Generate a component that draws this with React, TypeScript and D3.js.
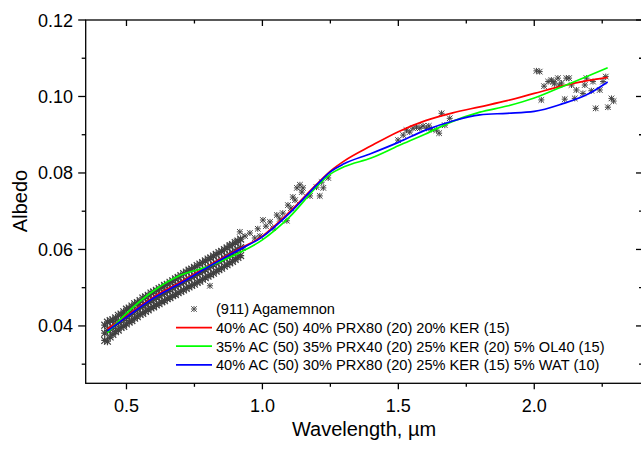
import React, { useEffect, useRef } from 'react';
import * as d3 from 'd3';

// model curves (wavelength in µm, albedo)
const curveWave = [0.43, 0.5, 0.6, 0.7, 0.8, 0.9, 1.0, 1.1, 1.2, 1.25, 1.3, 1.4, 1.5, 1.6, 1.7, 1.8, 1.9, 2.0, 2.1, 2.2, 2.27];
const redAlbedo = [0.0392, 0.0426, 0.0476, 0.0515, 0.0557, 0.0596, 0.0635, 0.0698, 0.0771, 0.0805, 0.0831, 0.0871, 0.0908, 0.0937, 0.0957, 0.0973, 0.0989, 0.1008, 0.1027, 0.1042, 0.1050];
const greenAlbedo = [0.0382, 0.0433, 0.0492, 0.0533, 0.0555, 0.0586, 0.0625, 0.0685, 0.0764, 0.0797, 0.0816, 0.0839, 0.0871, 0.0902, 0.0935, 0.0959, 0.0975, 0.0996, 0.1025, 0.1054, 0.1075];
const blueAlbedo = [0.0387, 0.0423, 0.0473, 0.0512, 0.0554, 0.0594, 0.0633, 0.0695, 0.0769, 0.0803, 0.0824, 0.0851, 0.0880, 0.0912, 0.0936, 0.0952, 0.0956, 0.0961, 0.0980, 0.1007, 0.1038];

// (911) Agamemnon, visible part: dense band read as low / mid / high edge per wavelength
const visWave = [0.42, 0.43, 0.44, 0.45, 0.46, 0.47, 0.48, 0.49, 0.50, 0.51, 0.52, 0.53, 0.54, 0.55, 0.56, 0.57, 0.58, 0.59, 0.60, 0.61, 0.62, 0.63, 0.64, 0.65, 0.66, 0.67, 0.68, 0.69, 0.70, 0.71, 0.72, 0.73, 0.74, 0.75, 0.76, 0.77, 0.78, 0.79, 0.80, 0.81, 0.82, 0.83, 0.84, 0.85, 0.86, 0.87, 0.88, 0.89, 0.90, 0.91, 0.92];
const visLow = [0.0362, 0.0360, 0.0371, 0.0378, 0.0385, 0.0389, 0.0396, 0.0399, 0.0405, 0.0410, 0.0414, 0.0420, 0.0424, 0.0430, 0.0433, 0.0438, 0.0442, 0.0447, 0.0450, 0.0455, 0.0458, 0.0463, 0.0466, 0.0471, 0.0474, 0.0479, 0.0482, 0.0487, 0.0490, 0.0494, 0.0498, 0.0502, 0.0506, 0.0509, 0.0514, 0.0517, 0.0522, 0.0526, 0.0530, 0.0534, 0.0538, 0.0543, 0.0547, 0.0551, 0.0556, 0.0560, 0.0565, 0.0569, 0.0574, 0.0579, 0.0584];
const visMid = [0.0381, 0.0388, 0.0392, 0.0398, 0.0404, 0.0409, 0.0413, 0.0419, 0.0424, 0.0428, 0.0434, 0.0438, 0.0443, 0.0449, 0.0452, 0.0457, 0.0462, 0.0465, 0.0470, 0.0474, 0.0478, 0.0483, 0.0486, 0.0491, 0.0494, 0.0499, 0.0503, 0.0507, 0.0512, 0.0515, 0.0520, 0.0523, 0.0528, 0.0531, 0.0536, 0.0539, 0.0544, 0.0547, 0.0552, 0.0556, 0.0560, 0.0564, 0.0569, 0.0573, 0.0577, 0.0582, 0.0586, 0.0591, 0.0596, 0.0600, 0.0605];
const visHigh = [0.0402, 0.0410, 0.0414, 0.0416, 0.0421, 0.0428, 0.0431, 0.0437, 0.0444, 0.0447, 0.0452, 0.0458, 0.0461, 0.0466, 0.0473, 0.0476, 0.0480, 0.0486, 0.0489, 0.0493, 0.0498, 0.0501, 0.0506, 0.0509, 0.0514, 0.0518, 0.0523, 0.0527, 0.0532, 0.0537, 0.0541, 0.0546, 0.0549, 0.0553, 0.0558, 0.0562, 0.0566, 0.0570, 0.0575, 0.0578, 0.0583, 0.0587, 0.0592, 0.0595, 0.0600, 0.0604, 0.0609, 0.0613, 0.0618, 0.0622, 0.0627];

// (911) Agamemnon, sparse points
const nirWave = [0.807, 0.881, 0.905, 0.917, 0.928, 0.936, 0.954, 0.972, 0.983, 0.991, 1.002, 1.013, 1.028, 1.039, 1.053, 1.064, 1.075, 1.090, 1.094, 1.105, 1.112, 1.120, 1.127, 1.138, 1.145, 1.149, 1.175, 1.199, 1.211, 1.218, 1.224, 1.242,
  1.499, 1.518, 1.530, 1.542, 1.554, 1.567, 1.579, 1.591, 1.604, 1.612, 1.622, 1.640, 1.650, 1.659, 1.671, 1.689,
  2.008, 2.020, 2.026, 2.036, 2.051, 2.063, 2.069, 2.074, 2.087, 2.092, 2.100, 2.112, 2.118, 2.128, 2.137, 2.149, 2.155, 2.179, 2.186, 2.192, 2.210, 2.216, 2.226, 2.241, 2.253, 2.263, 2.271, 2.284, 2.292];
const nirAlbedo = [0.0505, 0.0612, 0.0620, 0.0646, 0.0604, 0.0635, 0.0643, 0.0630, 0.0654, 0.0635, 0.0677, 0.0661, 0.0672, 0.0656, 0.0690, 0.0680, 0.0695, 0.0675, 0.0716, 0.0708, 0.0737, 0.0729, 0.0761, 0.0769, 0.0750, 0.0761, 0.0740, 0.0763, 0.0740, 0.0776, 0.0761, 0.0787,
  0.0886, 0.0899, 0.0912, 0.0907, 0.0917, 0.0920, 0.0917, 0.0923, 0.0917, 0.0923, 0.0914, 0.0912, 0.0904, 0.0956, 0.0925, 0.0943,
  0.1067, 0.1065, 0.0991, 0.1027, 0.1039, 0.1043, 0.1039, 0.1033, 0.1048, 0.1030, 0.1035, 0.0993, 0.1048, 0.1048, 0.1030, 0.0995, 0.1017, 0.1008, 0.1030, 0.1048, 0.1015, 0.1039, 0.0969, 0.1017, 0.1039, 0.1052, 0.0972, 0.0995, 0.0988];

const xMajor = [0.5, 1.0, 1.5, 2.0];
const xMinor = [0.75, 1.25, 1.75, 2.25];
const yMajor = [0.04, 0.06, 0.08, 0.10, 0.12];
const yMinor = [0.03, 0.05, 0.07, 0.09, 0.11];

const legendLabels = [
  '(911) Agamemnon',
  '40% AC (50) 40% PRX80 (20) 20% KER (15)',
  '35% AC (50) 35% PRX40 (20) 25% KER (20) 5% OL40 (15)',
  '40% AC (50) 30% PRX80 (20) 25% KER (15) 5% WAT (10)',
];
const lineColors = ['#ff0000', '#00ff00', '#0000ff'];

const FONT = "'Liberation Sans', Arial, sans-serif";
const STAR = 'M-2.8,-2.8L2.8,2.8M-2.8,2.8L2.8,-2.8M0,-3L0,3M-3,0L3,0';
const BIG_STAR = 'M-3.4,-3.4L3.4,3.4M-3.4,3.4L3.4,-3.4M0,-4L0,4M-3.5,0L3.5,0';

function AlbedoChart() {
  const svgRef = useRef<SVGSVGElement>(null);

  useEffect(() => {
    const svg = d3.select(svgRef.current);
    svg.selectAll('*').remove();

    const W = 641, H = 449;
    const left = 85.7, right = 643, top = 20, bottom = 383.3;

    const x = d3.scaleLinear().domain([0.35, 2.4]).range([left, right]);
    const y = d3.scaleLinear().domain([0.025, 0.12]).range([bottom, top]);

    svg.attr('width', W).attr('height', H);
    svg.append('rect').attr('width', W).attr('height', H).attr('fill', '#fff');

    // scatter points: dense visible band
    const vis: [number, number][] = [];
    visWave.forEach((w, i) => {
      vis.push([w, visLow[i]], [w, visHigh[i]], [w, visMid[i]]);
    });
    const nir: [number, number][] = nirWave.map((w, i) => [w, nirAlbedo[i]]);

    svg.append('g')
      .selectAll('path')
      .data(vis)
      .join('path')
      .attr('transform', d => `translate(${x(d[0])},${y(d[1])})`)
      .attr('d', BIG_STAR)
      .attr('stroke', '#404040')
      .attr('stroke-width', 1.2)
      .attr('fill', 'none');

    svg.append('g')
      .selectAll('path')
      .data(nir)
      .join('path')
      .attr('transform', d => `translate(${x(d[0])},${y(d[1])})`)
      .attr('d', STAR)
      .attr('stroke', '#444')
      .attr('stroke-width', 1)
      .attr('fill', 'none');

    // model lines
    const line = d3.line<number>()
      .x((d, i) => x(curveWave[i]))
      .y(d => y(d))
      .curve(d3.curveMonotoneX);

    [redAlbedo, greenAlbedo, blueAlbedo].forEach((s, i) => {
      svg.append('path')
        .attr('d', line(s))
        .attr('fill', 'none')
        .attr('stroke', lineColors[i])
        .attr('stroke-width', 1.7);
    });

    // frame
    svg.append('rect')
      .attr('x', left).attr('y', top)
      .attr('width', right - left).attr('height', bottom - top)
      .attr('fill', 'none').attr('stroke', '#000').attr('stroke-width', 1.3);

    const tickG = svg.append('g').attr('stroke', '#000').attr('stroke-width', 1.3);
    // bottom (outward) and top (inward)
    xMajor.forEach(v => {
      tickG.append('line').attr('x1', x(v)).attr('x2', x(v)).attr('y1', bottom).attr('y2', bottom + 6);
      tickG.append('line').attr('x1', x(v)).attr('x2', x(v)).attr('y1', top).attr('y2', top + 6);
    });
    xMinor.forEach(v => {
      tickG.append('line').attr('x1', x(v)).attr('x2', x(v)).attr('y1', bottom).attr('y2', bottom + 3.5);
      tickG.append('line').attr('x1', x(v)).attr('x2', x(v)).attr('y1', top).attr('y2', top + 3.5);
    });
    // left (outward) and right (inward)
    yMajor.forEach(v => {
      tickG.append('line').attr('x1', left - 7.5).attr('x2', left).attr('y1', y(v)).attr('y2', y(v));
      tickG.append('line').attr('x1', right - 7).attr('x2', right).attr('y1', y(v)).attr('y2', y(v));
    });
    yMinor.forEach(v => {
      tickG.append('line').attr('x1', left - 4).attr('x2', left).attr('y1', y(v)).attr('y2', y(v));
      tickG.append('line').attr('x1', right - 4).attr('x2', right).attr('y1', y(v)).attr('y2', y(v));
    });

    // tick labels
    svg.append('g')
      .selectAll('text')
      .data(xMajor)
      .join('text')
      .attr('x', d => x(d))
      .attr('y', 411.5)
      .attr('text-anchor', 'middle')
      .style('font-family', FONT)
      .style('font-size', '18px')
      .text(d => d.toFixed(1));

    svg.append('g')
      .selectAll('text')
      .data(yMajor)
      .join('text')
      .attr('x', 73)
      .attr('y', d => y(d) + 6.5)
      .attr('text-anchor', 'end')
      .style('font-family', FONT)
      .style('font-size', '18px')
      .text(d => d.toFixed(2));

    // axis titles
    svg.append('text')
      .attr('x', 364)
      .attr('y', 436)
      .attr('text-anchor', 'middle')
      .style('font-family', FONT)
      .style('font-size', '20px')
      .text('Wavelength, µm');

    svg.append('text')
      .attr('transform', 'translate(27,201) rotate(-90)')
      .attr('text-anchor', 'middle')
      .style('font-family', FONT)
      .style('font-size', '20px')
      .text('Albedo');

    // legend
    const rowY = [309, 327.7, 346.2, 364.8];
    const lg = svg.append('g');
    lg.append('path')
      .attr('transform', `translate(194,${rowY[0]})`)
      .attr('d', STAR)
      .attr('stroke', '#555')
      .attr('fill', 'none');
    lineColors.forEach((c, i) => {
      lg.append('line')
        .attr('x1', 176).attr('x2', 212)
        .attr('y1', rowY[i + 1]).attr('y2', rowY[i + 1])
        .attr('stroke', c).attr('stroke-width', 1.7);
    });
    lg.selectAll('text')
      .data(legendLabels)
      .join('text')
      .attr('x', 216)
      .attr('y', (d, i) => rowY[i] + 5.3)
      .style('font-family', FONT)
      .style('font-size', '14.6px')
      .text(d => d);
  }, []);

  return <svg ref={svgRef} style={{ position: 'absolute', left: 0, top: 0 }}></svg>;
}

export default function App() {
  return <AlbedoChart />;
}
